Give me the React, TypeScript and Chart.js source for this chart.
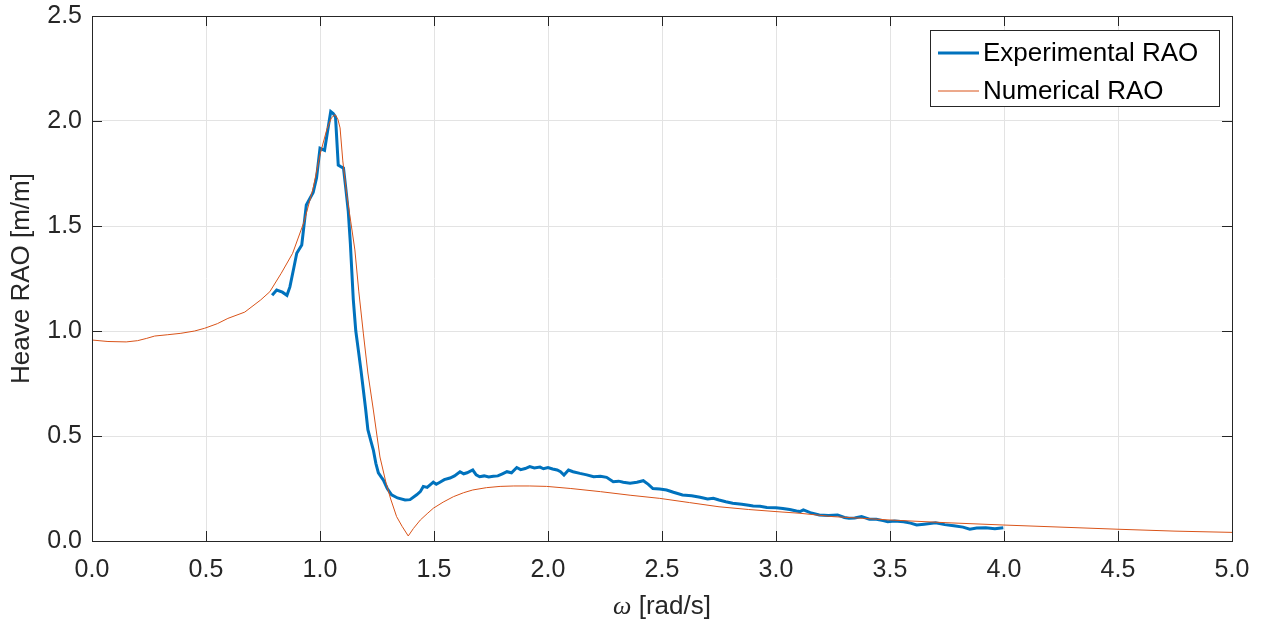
import React, { useEffect, useRef } from "react";
import { Chart, registerables } from "chart.js";

Chart.register(...registerables);

// Experimental RAO (omega [rad/s], heave RAO [m/m])
const expOmega = [
  0.79, 0.81, 0.835, 0.855, 0.868, 0.885, 0.898, 0.92, 0.94, 0.955, 0.97, 0.985, 1.0, 1.02, 1.033, 1.047,
  1.058, 1.068, 1.08, 1.095, 1.103, 1.113, 1.124, 1.133, 1.146, 1.157, 1.168, 1.18, 1.19, 1.2, 1.21, 1.222,
  1.234, 1.245, 1.256, 1.268, 1.278, 1.295, 1.314, 1.34, 1.373, 1.395, 1.424, 1.44, 1.453, 1.47, 1.497, 1.51,
  1.526, 1.545, 1.57, 1.59, 1.614, 1.63, 1.645, 1.67, 1.685, 1.7, 1.72, 1.74, 1.76, 1.78, 1.8, 1.82,
  1.84, 1.863, 1.88, 1.9, 1.92, 1.94, 1.965, 1.98, 2.0, 2.02, 2.04, 2.055, 2.07, 2.09, 2.11, 2.14,
  2.17, 2.2, 2.23, 2.257, 2.286, 2.31, 2.33, 2.36, 2.39, 2.418, 2.44, 2.46, 2.49, 2.52, 2.55, 2.59,
  2.63, 2.667, 2.7, 2.725, 2.75, 2.78, 2.81, 2.85, 2.88, 2.9, 2.93, 2.96, 3.0, 3.03, 3.06, 3.09,
  3.105, 3.12, 3.15, 3.19, 3.23, 3.27, 3.3, 3.32, 3.345, 3.375, 3.41, 3.44, 3.47, 3.49, 3.52, 3.56,
  3.59, 3.617, 3.65, 3.7, 3.74, 3.78, 3.82, 3.85, 3.88, 3.92, 3.96, 3.997,
];
const expRAO = [
  1.17, 1.195, 1.185, 1.17, 1.21, 1.3, 1.37, 1.41, 1.6, 1.63, 1.66, 1.73, 1.87, 1.86, 1.95, 2.045,
  2.035, 2.02, 1.79, 1.78, 1.776, 1.68, 1.57, 1.42, 1.15, 1.0, 0.91, 0.81, 0.72, 0.63, 0.53, 0.48,
  0.433, 0.37, 0.324, 0.305, 0.29, 0.25, 0.22, 0.205, 0.195, 0.197, 0.22, 0.235, 0.26, 0.255, 0.28, 0.27,
  0.28, 0.292, 0.3, 0.31, 0.33, 0.32, 0.325, 0.338, 0.315, 0.306, 0.31, 0.305, 0.308, 0.31, 0.32, 0.33,
  0.325, 0.35, 0.34, 0.345, 0.354, 0.348, 0.352, 0.344, 0.35, 0.343, 0.338, 0.33, 0.314, 0.338, 0.33, 0.322,
  0.315, 0.306, 0.308, 0.303, 0.282, 0.285, 0.28, 0.275, 0.28, 0.287, 0.27, 0.25, 0.248, 0.243, 0.232, 0.219,
  0.215, 0.208, 0.2, 0.203, 0.195, 0.187, 0.18, 0.175, 0.17, 0.167, 0.165, 0.16, 0.158, 0.155, 0.15, 0.143,
  0.14, 0.148, 0.135, 0.124, 0.122, 0.124, 0.112, 0.108, 0.11, 0.116, 0.104, 0.103, 0.097, 0.092, 0.095, 0.092,
  0.085, 0.076, 0.08, 0.087, 0.078, 0.073, 0.066, 0.056, 0.062, 0.063, 0.058, 0.063,
];

// Numerical RAO
const numOmega = [
  0, 0.07, 0.15, 0.2, 0.24, 0.275, 0.33, 0.39, 0.45, 0.494, 0.55, 0.596, 0.67, 0.74, 0.78, 0.83,
  0.88, 0.93, 0.97, 1.0, 1.03, 1.05, 1.066, 1.078, 1.088, 1.1, 1.117, 1.135, 1.153, 1.17, 1.19, 1.21,
  1.234, 1.25, 1.263, 1.29, 1.31, 1.336, 1.36, 1.387, 1.41, 1.44, 1.47, 1.497, 1.54, 1.585, 1.63, 1.67,
  1.73, 1.79, 1.85, 1.92, 1.994, 2.1, 2.23, 2.36, 2.49, 2.62, 2.75, 2.88, 3.0, 3.105, 3.25, 3.38,
  3.5, 3.75, 4.0, 4.25, 4.5, 4.75, 5.0,
];
const numRAO = [
  0.957, 0.95, 0.948, 0.954, 0.965, 0.976, 0.982, 0.989, 1.0, 1.013, 1.035, 1.06, 1.09, 1.148, 1.187, 1.275,
  1.37, 1.52, 1.68, 1.84, 1.96, 2.015, 2.03, 2.01, 1.967, 1.81, 1.65, 1.52, 1.386, 1.19, 0.99, 0.8,
  0.624, 0.5, 0.4, 0.275, 0.2, 0.116, 0.07, 0.024, 0.06, 0.1, 0.13, 0.156, 0.185, 0.211, 0.23, 0.243,
  0.254, 0.26, 0.262, 0.262, 0.26, 0.25, 0.235, 0.218, 0.203, 0.183, 0.163, 0.15, 0.14, 0.132, 0.116, 0.108,
  0.1, 0.087, 0.076, 0.066, 0.056, 0.047, 0.041,
];

const seriesLabels = ["Experimental RAO", "Numerical RAO"];
const seriesColors = ["#0072BD", "#D95319"];
const seriesWidths = [3, 1];
const xTitleSymbol = "ω";
const xTitleRest = " [rad/s]";
const yTitle = "Heave RAO [m/m]";

const FONT = "'Liberation Sans', Arial, Helvetica, sans-serif";
const TXT = "#262626";

const decorPlugin = {
  id: "matlabDecor",
  afterDraw(chart: any) {
    const { ctx, chartArea: a, scales } = chart;
    const xs = scales.x;
    const ys = scales.y;
    ctx.save();
    ctx.strokeStyle = TXT;
    ctx.lineWidth = 1;
    const tl = 10;
    ctx.beginPath();
    xs.ticks.forEach((t: any) => {
      const px = Math.round(xs.getPixelForValue(t.value)) + 0.5;
      ctx.moveTo(px, a.bottom);
      ctx.lineTo(px, a.bottom - tl);
      ctx.moveTo(px, a.top);
      ctx.lineTo(px, a.top + tl);
    });
    ys.ticks.forEach((t: any) => {
      const py = Math.round(ys.getPixelForValue(t.value)) + 0.5;
      ctx.moveTo(a.left, py);
      ctx.lineTo(a.left + tl, py);
      ctx.moveTo(a.right, py);
      ctx.lineTo(a.right - tl, py);
    });
    ctx.stroke();
    ctx.strokeRect(Math.round(a.left) + 0.5, Math.round(a.top) + 0.5, Math.round(a.right - a.left), Math.round(a.bottom - a.top));

    // x-axis title with italic omega
    const cx = (a.left + a.right) / 2;
    const ty = 607;
    ctx.fillStyle = TXT;
    ctx.textBaseline = "middle";
    ctx.textAlign = "left";
    const symFont = "italic 26px 'Liberation Serif', 'DejaVu Serif', serif";
    const restFont = "26px " + FONT;
    ctx.font = symFont;
    const w1 = ctx.measureText(xTitleSymbol).width;
    ctx.font = restFont;
    const w2 = ctx.measureText(xTitleRest).width;
    const sx = cx - (w1 + w2) / 2;
    ctx.font = symFont;
    ctx.fillText(xTitleSymbol, sx, ty);
    ctx.font = restFont;
    ctx.fillText(xTitleRest, sx + w1, ty);

    // legend box (inside, top-right)
    const lx = 930, ly = 30, lw = 289, lh = 76;
    ctx.fillStyle = "#ffffff";
    ctx.fillRect(lx, ly, lw, lh);
    ctx.strokeStyle = TXT;
    ctx.lineWidth = 1;
    ctx.strokeRect(lx + 0.5, ly + 0.5, lw, lh);
    const rows = [53, 91];
    chart.data.datasets.forEach((ds: any, i: number) => {
      ctx.strokeStyle = ds.borderColor;
      ctx.lineWidth = ds.borderWidth;
      ctx.beginPath();
      ctx.moveTo(938, rows[i]);
      ctx.lineTo(979, rows[i]);
      ctx.stroke();
      ctx.fillStyle = "#000000";
      ctx.font = "26px " + FONT;
      ctx.textBaseline = "middle";
      ctx.fillText(ds.label, 983, rows[i] + 1);
    });
    ctx.restore();
  },
};

export default function App() {
  const ref = useRef<HTMLCanvasElement | null>(null);
  useEffect(() => {
    document.body.style.margin = "0";
    const canvas = ref.current;
    if (!canvas) return;
    const chart = new Chart(canvas, {
      type: "line",
      data: {
        datasets: [
          {
            label: seriesLabels[0],
            data: expOmega.map((x, i) => ({ x, y: expRAO[i] })),
            borderColor: seriesColors[0],
            backgroundColor: seriesColors[0],
            borderWidth: seriesWidths[0],
            pointRadius: 0,
            tension: 0,
            order: 1,
          },
          {
            label: seriesLabels[1],
            data: numOmega.map((x, i) => ({ x, y: numRAO[i] })),
            borderColor: seriesColors[1],
            backgroundColor: seriesColors[1],
            borderWidth: seriesWidths[1],
            pointRadius: 0,
            tension: 0,
            order: 0,
          },
        ],
      },
      options: {
        responsive: false,
        animation: false,
        devicePixelRatio: 1,
        layout: { padding: { top: 16, right: 32, left: 0, bottom: 0 } },
        plugins: { legend: { display: false }, tooltip: { enabled: false } },
        scales: {
          x: {
            type: "linear",
            min: 0,
            max: 5,
            afterFit: (s: any) => {
              s.height = 87;
            },
            ticks: {
              stepSize: 0.5,
              callback: (v: any) => Number(v).toFixed(1),
              font: { family: FONT, size: 25 },
              color: TXT,
              padding: 14,
              maxRotation: 0,
            },
            grid: { color: "#e3e3e3", drawTicks: false, lineWidth: 1 },
            border: { display: false },
          },
          y: {
            type: "linear",
            min: 0,
            max: 2.5,
            afterFit: (s: any) => {
              s.width = 92;
            },
            ticks: {
              stepSize: 0.5,
              callback: (v: any) => Number(v).toFixed(1),
              font: { family: FONT, size: 25, lineHeight: 0.4 },
              color: TXT,
              padding: 10,
            },
            grid: { color: "#e3e3e3", drawTicks: false, lineWidth: 1 },
            border: { display: false },
            title: {
              display: true,
              text: yTitle,
              font: { family: FONT, size: 26 },
              color: TXT,
              padding: { top: 6, bottom: 0 },
            },
          },
        },
      },
      plugins: [decorPlugin],
    });
    return () => chart.destroy();
  }, []);
  return (
    <div style={{ position: "fixed", left: 0, top: 0, width: 1264, height: 628, background: "#fff" }}>
      <canvas ref={ref} width={1264} height={628} style={{ display: "block" }} />
    </div>
  );
}
